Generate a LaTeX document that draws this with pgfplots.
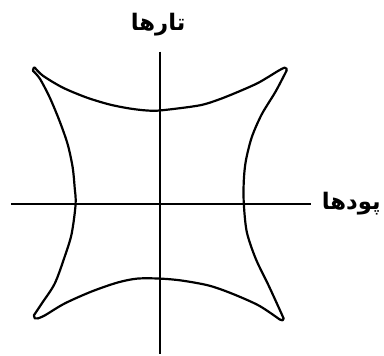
\documentclass[border=0pt]{standalone}
\usepackage{fontspec}
\usepackage{pgfplots}
\pgfplotsset{compat=1.18}
\TeXXeTstate=1
\newfontfamily\arabicfont[Script=Arabic,BoldFont={DejaVu Sans Bold}]{DejaVu Sans}
\begin{document}
\begin{tikzpicture}
\begin{axis}[
  width=384bp, height=356bp, scale only axis,
  xmin=0, xmax=384, ymin=0, ymax=356,
  y dir=reverse,
  hide axis,
  clip=false,
  curve/.style={black, line width=2.2bp, smooth, tension=0.5, line cap=round},
  tip/.style={black, line width=2.2bp, line cap=round, line join=round},
]
% keep the whole frame as the bounding box
\addplot[draw=none] coordinates {(0,0) (384,356)};
% axes (pixel coordinates, y down)
\addplot[black, line width=2.2bp] coordinates {(11,205) (313,205)};
\addplot[black, line width=2.2bp] coordinates {(161,52) (161,356)};
% top edge
\addplot[curve] coordinates {
  (35,68) (43,76) (63,88) (87,98) (110,105) (130,109) (147,111) (161,111)
  (200,106) (220,100) (240,92) (260,83) (280,71) (286,68)};
% right edge
\addplot[curve] coordinates {
  (288,71) (277,92) (263,115) (253,138) (247,162) (245,182) (245,204)
  (248,233) (257,260) (270,287) (281,311) (285,320)};
% bottom edge
\addplot[curve] coordinates {
  (281,321) (260,307) (233,295) (210,287) (183,282) (161,280)
  (138,280) (118,284) (92,293) (65,305) (45,317) (38,320)};
% left edge
\addplot[curve] coordinates {
  (34,317) (42,305) (55,285) (65,258) (72,235) (76,205)
  (75,188) (73,168) (68,145) (60,122) (50,98) (40,79) (33,71)};
% rounded tips
\addplot[tip] coordinates {(33,71) (34,68) (35,68)};
\addplot[tip] coordinates {(286,68) (288,69) (288,71)};
\addplot[tip] coordinates {(285,320) (284,322) (281,321)};
\addplot[tip] coordinates {(38,320) (35,320) (34,317)};
\node[font={\arabicfont\bfseries\fontsize{23}{25}\selectfont}] at (axis cs:159,25) {\beginR تارها\endR};
\node[font={\arabicfont\bfseries\fontsize{23}{25}\selectfont}] at (axis cs:353,205) {\beginR پودها\endR};
\end{axis}
\end{tikzpicture}
\end{document}
